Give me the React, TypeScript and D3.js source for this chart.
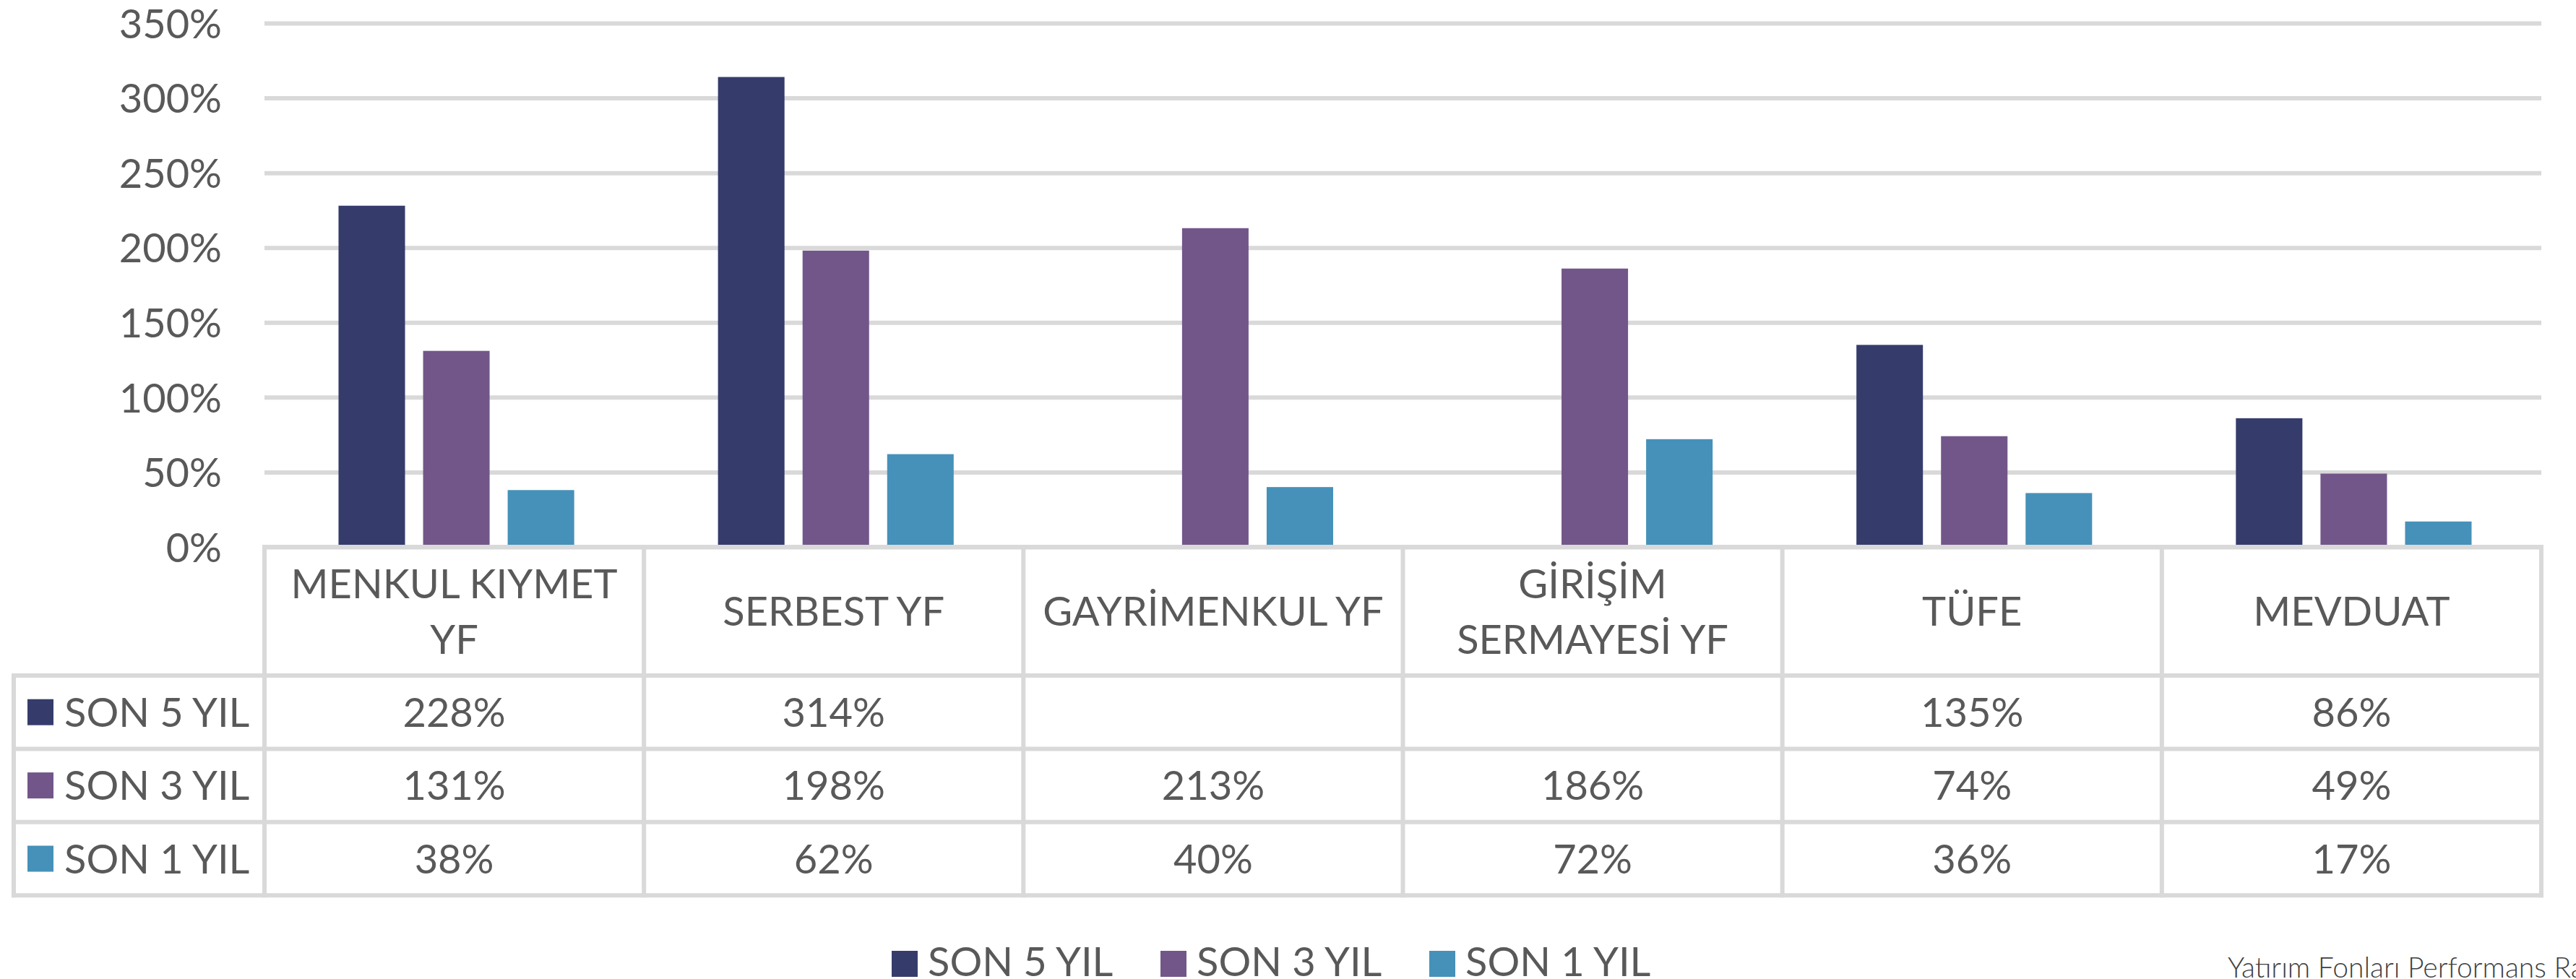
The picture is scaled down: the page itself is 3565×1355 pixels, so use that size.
import { useEffect, useRef } from "react";
import * as d3 from "d3";

const WIDTH = 3565;
const HEIGHT = 1355;

// chart data
const CATEGORIES = ["MENKUL KIYMET\nYF", "SERBEST YF", "GAYRİMENKUL YF", "GİRİŞİM\nSERMAYESİ YF", "TÜFE", "MEVDUAT"];
const SERIES = ["SON 5 YIL", "SON 3 YIL", "SON 1 YIL"];
const SON_5_YIL = [2.28, 3.14, null, null, 1.35, 0.86];
const SON_3_YIL = [1.31, 1.98, 2.13, 1.86, 0.74, 0.49];
const SON_1_YIL = [0.38, 0.62, 0.4, 0.72, 0.36, 0.17];
const Y_TICKS = [0, 0.5, 1, 1.5, 2, 2.5, 3, 3.5];
const COLORS = ["#353c6c", "#72568a", "#4691b9"];
const FOOTER = "Yatırım Fonları Performans Raporu";

const PLOT = { left: 366, right: 3517, top: 32, bottom: 757 };
const TABLE = { left: 19, headerBottom: 935, rowHeight: 101.4 };
const FONT = "Lato, 'Open Sans', sans-serif";
const FONT_SIZE = 56;
const TEXT = "#595959";
const GRID = "#d9d9d9";
const LINE_W = 6;

export default function App() {
  const svgRef = useRef<SVGSVGElement | null>(null);

  useEffect(() => {
    const svg = d3.select(svgRef.current);
    svg.selectAll("*").remove();

    const values = [SON_5_YIL, SON_3_YIL, SON_1_YIL];

    const x0 = d3.scaleBand<string>().domain(CATEGORIES).range([PLOT.left, PLOT.right]).padding(0);
    const x1 = d3
      .scaleBand<string>()
      .domain(SERIES)
      .range([0, x0.bandwidth()])
      .paddingInner(0.2137)
      .paddingOuter(0.85)
      .align(0.515);
    const y = d3.scaleLinear().domain([0, 3.5]).range([PLOT.bottom, PLOT.top]);
    const pct = d3.format(".0%");

    svg.append("rect").attr("width", WIDTH).attr("height", HEIGHT).attr("fill", "#ffffff");

    // gridlines + y labels
    svg
      .append("g")
      .attr("transform", `translate(${PLOT.left},0)`)
      .call(
        d3
          .axisLeft(y)
          .tickValues(Y_TICKS)
          .tickSize(-(PLOT.right - PLOT.left))
          .tickPadding(59)
          .tickFormat((d) => pct(d as number))
      )
      .call((g) => g.select(".domain").remove())
      .call((g) => g.selectAll("line").attr("stroke", GRID).attr("stroke-width", LINE_W))
      .call((g) =>
        g
          .selectAll("text")
          .attr("fill", TEXT)
          .attr("font-family", FONT)
          .attr("font-size", FONT_SIZE)
          .attr("dy", "0.36em")
      );

    // bars
    SERIES.forEach((s, si) => {
      svg
        .append("g")
        .selectAll("rect")
        .data(CATEGORIES.map((c, ci) => ({ c, v: values[si][ci] })).filter((d) => d.v != null))
        .join("rect")
        .attr("x", (d) => (x0(d.c) as number) + (x1(s) as number))
        .attr("y", (d) => y(d.v as number))
        .attr("width", x1.bandwidth())
        .attr("height", (d) => y(0) - y(d.v as number))
        .attr("fill", COLORS[si]);
    });

    // data table
    const table = svg.append("g");
    const rowTop = (i: number) => TABLE.headerBottom + i * TABLE.rowHeight;
    const tableBottom = rowTop(SERIES.length);
    const hline = (yy: number, xa: number) =>
      table
        .append("line")
        .attr("x1", xa)
        .attr("x2", PLOT.right + LINE_W / 2)
        .attr("y1", yy)
        .attr("y2", yy)
        .attr("stroke", GRID)
        .attr("stroke-width", LINE_W);
    const vline = (xx: number, ya: number) =>
      table
        .append("line")
        .attr("x1", xx)
        .attr("x2", xx)
        .attr("y1", ya)
        .attr("y2", tableBottom + LINE_W / 2)
        .attr("stroke", GRID)
        .attr("stroke-width", LINE_W);

    hline(y(0), PLOT.left - LINE_W / 2);
    d3.range(SERIES.length + 1).forEach((i) => hline(rowTop(i), TABLE.left - LINE_W / 2));
    vline(TABLE.left, TABLE.headerBottom - LINE_W / 2);
    CATEGORIES.forEach((c) => vline(x0(c) as number, y(0) - LINE_W / 2));
    vline(PLOT.right, y(0) - LINE_W / 2);

    // header labels
    const headerMid = (y(0) + TABLE.headerBottom) / 2;
    const lineH = 77;
    CATEGORIES.forEach((c) => {
      const lines = c.split("\n");
      const cx = (x0(c) as number) + x0.bandwidth() / 2;
      const t = table
        .append("text")
        .attr("text-anchor", "middle")
        .attr("font-family", FONT)
        .attr("font-size", FONT_SIZE)
        .attr("fill", TEXT);
      lines.forEach((ln, li) => {
        t.append("tspan")
          .attr("x", cx)
          .attr("y", headerMid + FONT_SIZE * 0.36 + (li - (lines.length - 1) / 2) * lineH)
          .text(ln);
      });
    });

    // rows: legend key + values
    SERIES.forEach((s, si) => {
      const mid = rowTop(si) + TABLE.rowHeight / 2;
      table
        .append("rect")
        .attr("x", 38)
        .attr("y", mid - 18)
        .attr("width", 36)
        .attr("height", 36)
        .attr("fill", COLORS[si]);
      table
        .append("text")
        .attr("x", 89)
        .attr("y", mid + FONT_SIZE * 0.36)
        .attr("font-family", FONT)
        .attr("font-size", FONT_SIZE)
        .attr("fill", TEXT)
        .text(s);
      CATEGORIES.forEach((c, ci) => {
        const v = values[si][ci];
        if (v == null) return;
        table
          .append("text")
          .attr("x", (x0(c) as number) + x0.bandwidth() / 2)
          .attr("y", mid + FONT_SIZE * 0.36)
          .attr("text-anchor", "middle")
          .attr("font-family", FONT)
          .attr("font-size", FONT_SIZE)
          .attr("fill", TEXT)
          .text(pct(v));
      });
    });

    // bottom legend
    const legend = svg.append("g");
    SERIES.forEach((s, si) => {
      const lx = 1234 + si * 372;
      legend
        .append("rect")
        .attr("x", lx)
        .attr("y", 1316)
        .attr("width", 36)
        .attr("height", 36)
        .attr("fill", COLORS[si]);
      legend
        .append("text")
        .attr("x", lx + 50)
        .attr("y", 1351)
        .attr("font-family", FONT)
        .attr("font-size", FONT_SIZE)
        .attr("fill", TEXT)
        .text(s);
    });

    svg
      .append("text")
      .attr("x", 3083)
      .attr("y", 1353)
      .attr("font-family", FONT)
      .attr("font-weight", 300)
      .attr("font-size", 39)
      .attr("fill", "#404040")
      .text(FOOTER);
  }, []);

  return (
    <svg
      ref={svgRef}
      width={WIDTH}
      height={HEIGHT}
      style={{ position: "absolute", left: 0, top: 0, display: "block" }}
    />
  );
}
